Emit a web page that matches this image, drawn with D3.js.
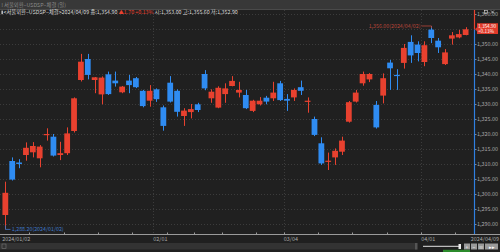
<!DOCTYPE html>
<html><head><meta charset="utf-8">
<script src="https://cdn.jsdelivr.net/npm/d3@7"></script>
<style>html,body{margin:0;padding:0;background:#202020;overflow:hidden}svg{display:block}</style>
</head><body><svg id="c" width="500" height="252"></svg>
<script>
const dates = ["01/02","01/03","01/04","01/05","01/08","01/09","01/10","01/11","01/12","01/15","01/16","01/17","01/18","01/19","01/22","01/23","01/24","01/25","01/26","01/29","01/30","01/31",
"02/01","02/02","02/05","02/06","02/07","02/08","02/13","02/14","02/15","02/16","02/19","02/20","02/21","02/22","02/23","02/26","02/27","02/28","02/29",
"03/04","03/05","03/06","03/07","03/08","03/11","03/12","03/13","03/14","03/15","03/18","03/19","03/20","03/21","03/22","03/25","03/26","03/27","03/28","03/29",
"04/01","04/02","04/03","04/04","04/05","04/08","04/09"];
const open  = [1293.0,1311.0,1310.5,1313.0,1313.9,1311.9,1319.6,1319.1,1313.0,1313.6,1321.0,1338.0,1345.0,1338.0,1333.2,1339.9,1337.8,1333.9,1337.8,1338.6,1334.4,1331.1,
1334.9,1328.9,1337.1,1334.4,1326.0,1327.3,1329.9,1340.0,1331.9,1328.8,1333.3,1336.0,1333.8,1333.0,1327.7,1329.9,1332.1,1331.9,1336.9,
1331.7,1332.2,1335.6,1330.7,1325.0,1316.9,1310.7,1312.2,1314.1,1324.1,1330.8,1336.9,1338.2,1329.7,1332.8,1343.8,1339.7,1343.7,1350.7,1349.8,
1344.0,1354.8,1351.1,1343.3,1351.8,1352.2,1353.0];
const high  = [1304.1,1312.2,1311.6,1317.2,1317.3,1316.3,1321.9,1320.0,1317.4,1322.2,1332.2,1346.7,1346.7,1339.0,1339.2,1340.8,1340.8,1336.0,1339.7,1339.0,1334.7,1336.3,
1335.2,1329.5,1339.3,1334.9,1328.6,1330.0,1330.4,1341.3,1334.9,1335.9,1336.9,1339.3,1337.4,1334.7,1331.4,1332.3,1332.7,1337.4,1337.7,
1333.3,1335.2,1337.8,1332.2,1325.8,1318.9,1313.8,1315.2,1319.1,1331.0,1334.7,1340.8,1340.3,1331.0,1340.2,1344.7,1341.6,1350.0,1352.9,1350.9,
1350.9,1356.0,1352.0,1348.3,1354.0,1354.7,1355.6];
const low   = [1288.2,1304.5,1308.6,1311.1,1312.2,1308.9,1317.8,1312.5,1311.3,1313.0,1320.5,1337.5,1338.2,1333.6,1329.9,1333.0,1335.8,1333.6,1333.6,1335.3,1328.9,1329.1,
1330.7,1321.1,1330.5,1325.8,1322.7,1325.2,1327.3,1334.6,1330.4,1328.6,1330.4,1335.9,1332.2,1328.3,1327.3,1329.5,1329.9,1331.0,1331.0,
1327.7,1331.0,1333.0,1327.1,1319.3,1309.7,1308.0,1309.7,1313.0,1323.8,1330.5,1336.1,1337.3,1321.8,1330.2,1334.7,1334.7,1341.8,1343.7,1344.2,
1342.6,1350.3,1347.0,1343.0,1349.8,1351.9,1352.9];
const close = [1300.4,1304.8,1310.0,1315.4,1316.0,1315.8,1320.0,1312.8,1313.6,1320.2,1331.9,1344.1,1339.7,1338.9,1338.8,1333.3,1336.9,1335.8,1336.3,1335.6,1329.3,1334.4,
1331.6,1322.7,1330.8,1327.4,1327.8,1328.3,1328.0,1335.2,1334.1,1335.4,1335.2,1337.7,1334.7,1328.6,1331.1,1331.1,1330.8,1333.8,1331.3,
1331.1,1334.7,1334.4,1331.1,1319.7,1310.2,1311.1,1314.4,1317.8,1330.6,1333.8,1340.0,1340.0,1322.2,1338.6,1341.9,1339.3,1348.7,1346.2,1347.0,
1349.6,1352.0,1348.9,1347.2,1352.9,1353.3,1354.9];
const gridTicks = [1290,1295,1300,1305,1310,1315,1320,1325,1330,1335,1340,1345,1350,1355,1360];
const labelTicks = [1290,1295,1300,1305,1310,1315,1320,1325,1330,1335,1340,1345,1350,1360];
const dateTickKeys = ["01/02","02/01","03/04","04/01"];
const dateTickLabels = ["2024/01/02","02/01","03/04","04/01"];
const lastDateLabel = "2024/04/09";
const weekStarts = ["01/08","01/15","01/22","01/29","02/05","02/13","02/19","02/26","03/04","03/11","03/18","03/25","04/01","04/08"];
const titleText = "서울외환−USDSP−체결 (일)";
const legendMain = "<서울외환−USDSP−체결>2024/04/09 종:1,354.90 ";
const legendChange = "▲1.70 +0.13%";
const legendRest = " 시:1,353.00 고:1,355.60 저:1,352.90";
const lastPrice = 1354.9, lastPct = "+0.13%";
const hiLabel = "1,356.00(2024/04/02)", hiIdx = 62, hiVal = 1356.0;
const loLabel = "1,288.20(2024/01/02)", loIdx = 0, loVal = 1288.2;

const RED = "#e8412f", BLUE = "#2f8cf2", FONT = "'Noto Sans CJK KR','Noto Sans',sans-serif";
const svg = d3.select("#c");
const plotL = 0, plotR = 474, plotT = 10, plotB = 234;

svg.append("rect").attr("width",500).attr("height",252).attr("fill","#202020");

const data = dates.map((d,i)=>({d, o:open[i], h:high[i], l:low[i], c:close[i]}));
const step = 6.87;
const x = d3.scaleBand().domain(dates).range([1.9, 1.9 + step*dates.length]).paddingInner(0.16).paddingOuter(0.08);
const bw = x.bandwidth();
const cx = d => x(d) + bw/2;
const y = d3.scaleLinear().domain([1286.667, 1361.333]).range([plotB, plotT]);

// grid
const g = svg.append("g");
g.selectAll(".hg").data(gridTicks).enter().append("line")
  .attr("x1",plotL).attr("x2",plotR).attr("y1",d=>Math.round(y(d))+0.5).attr("y2",d=>Math.round(y(d))+0.5)
  .attr("stroke","#3c3c3c").attr("stroke-dasharray","1,2");
g.selectAll(".vg").data(dateTickKeys.slice(1)).enter().append("line")
  .attr("x1",d=>Math.round(cx(d)-step/2)+0.5).attr("x2",d=>Math.round(cx(d)-step/2)+0.5)
  .attr("y1",plotT).attr("y2",plotB).attr("stroke","#3c3c3c").attr("stroke-dasharray","1,2");

// candles
const cg = svg.append("g");
cg.selectAll("line.w").data(data).enter().append("line")
  .attr("x1",d=>Math.round(cx(d.d))+0.5).attr("x2",d=>Math.round(cx(d.d))+0.5)
  .attr("y1",d=>y(d.h)).attr("y2",d=>y(d.l))
  .attr("stroke",d=>d.c>=d.o?RED:BLUE).attr("stroke-width",1);
cg.selectAll("rect.b").data(data).enter().append("rect")
  .attr("x",d=>x(d.d)).attr("width",bw)
  .attr("y",d=>y(Math.max(d.o,d.c))).attr("height",d=>Math.max(1,Math.abs(y(d.o)-y(d.c))))
  .attr("fill",d=>d.c>=d.o?RED:BLUE);

// high / low markers
const hx = Math.round(cx(dates[hiIdx]))+0.5, hy = y(hiVal);
svg.append("path").attr("d",`M${hx-10},${hy}H${hx}V${hy+2}`).attr("stroke","#b8463a").attr("fill","none").attr("stroke-width",0.8);
svg.append("text").attr("x",hx-11).attr("y",hy+1.8).attr("text-anchor","end").attr("fill","#b8463a")
  .attr("font-family",FONT).attr("font-size",5.3).text(hiLabel);
const lx = Math.round(cx(dates[loIdx]))+0.5, ly = y(loVal);
svg.append("path").attr("d",`M${lx},${ly-4}V${ly}H${lx+5}`).attr("stroke","#3f78c8").attr("fill","none").attr("stroke-width",0.8);
svg.append("text").attr("x",lx+6.3).attr("y",ly+1.8).attr("fill","#3f78c8")
  .attr("font-family",FONT).attr("font-size",5.3).text(loLabel);

// y axis
const yAxis = d3.axisRight(y).tickValues(labelTicks).tickSize(2).tickFormat(d=>d3.format(",.2f")(d));
const ya = svg.append("g").attr("transform",`translate(${plotR+0.5},0)`).call(yAxis);
ya.select(".domain").remove();
ya.selectAll("line").attr("stroke","#888");
ya.selectAll("text").attr("x",2.5).attr("fill","#a8a8a8").attr("font-family",FONT).attr("font-size",5.4);
svg.append("line").attr("x1",plotR+0.5).attr("x2",plotR+0.5).attr("y1",y(lastPrice)).attr("y2",plotB).attr("stroke","#2f7fe0").attr("stroke-width",1.2);
svg.append("line").attr("x1",plotR+0.5).attr("x2",plotR+0.5).attr("y1",plotT).attr("y2",y(lastPrice)).attr("stroke",RED).attr("stroke-width",1.2);

// last price box
const ly2 = y(lastPrice);
svg.append("path").attr("d",`M${plotR+1},${ly2}L${plotR+3},${ly2-2}V${ly2-6}H498V${ly2+4.8}H${plotR+3}V${ly2+2}Z`).attr("fill","#e03a2a");
svg.append("text").attr("x",478).attr("y",ly2-1.5).attr("fill","#fff").attr("font-family",FONT).attr("font-size",4.7).text(d3.format(",.2f")(lastPrice));
svg.append("text").attr("x",478).attr("y",ly2+3.9).attr("fill","#fff").attr("font-family",FONT).attr("font-size",4.7).text(lastPct);

// x axis
svg.append("line").attr("x1",0).attr("x2",500).attr("y1",plotB+0.5).attr("y2",plotB+0.5).attr("stroke","#9a9a9a");
svg.selectAll(".wt").data(weekStarts).enter().append("line")
  .attr("x1",d=>Math.round(cx(d)-step/2)+0.5).attr("x2",d=>Math.round(cx(d)-step/2)+0.5)
  .attr("y1",plotB-1.5).attr("y2",plotB).attr("stroke","#9a9a9a");
svg.selectAll(".xl").data(dateTickKeys).enter().append("text")
  .attr("x",d=>cx(d)-step/2+0.3).attr("y",240.5).attr("fill","#a8a8a8")
  .attr("font-family",FONT).attr("font-size",5.4).text((d,i)=>dateTickLabels[i]);
svg.append("text").attr("x",499).attr("y",240.5).attr("text-anchor","end").attr("fill","#a8a8a8")
  .attr("font-family",FONT).attr("font-size",5.4).text(lastDateLabel);

// title bar
svg.append("rect").attr("x",0).attr("y",0).attr("width",500).attr("height",9).attr("fill","#383838");
svg.append("line").attr("x1",0).attr("x2",500).attr("y1",9.5).attr("y2",9.5).attr("stroke","#4a4a4a");
svg.append("text").attr("x",1.5).attr("y",6.8).attr("fill","#8a8a8a").attr("font-family",FONT).attr("font-size",5.3).text("⁞ " + titleText);
svg.append("rect").attr("x",484.5).attr("y",10.5).attr("width",3).attr("height",3).attr("fill","none").attr("stroke","#ddd").attr("stroke-width",0.6);
svg.append("path").attr("d","M491,10.5L494,13.5M494,10.5L491,13.5").attr("stroke","#ddd").attr("stroke-width",0.7);

// legend row
svg.append("rect").attr("x",1.5).attr("y",10.6).attr("width",1.3).attr("height",3.6).attr("fill","#ddd");
const lt = svg.append("text").attr("x",3.5).attr("y",14.3).attr("font-family",FONT).attr("font-size",5.3).attr("fill","#d8d8d8");
lt.append("tspan").text(legendMain);
lt.append("tspan").attr("fill","#e8412f").text(legendChange);
lt.append("tspan").text(legendRest);

// bottom scroll bar
svg.append("rect").attr("x",0).attr("y",243).attr("width",417).attr("height",6.5).attr("fill","#333");
svg.append("rect").attr("x",2).attr("y",244).attr("width",4).attr("height",4.5).attr("fill","none").attr("stroke","#777").attr("stroke-width",0.6);
svg.append("rect").attr("x",415).attr("y",243).attr("width",2.5).attr("height",6.5).attr("fill","#555");
svg.append("line").attr("x1",423).attr("x2",461).attr("y1",246.3).attr("y2",246.3).attr("stroke","#bbb").attr("stroke-width",1.2);
svg.append("rect").attr("x",458.5).attr("y",244).attr("width",2.5).attr("height",5).attr("fill","#eee");
const btns = [[464,6,"+"],[471,6,"−"],[478,6,"≡"],[485,13,"▸▸"]];
btns.forEach(b=>{
  svg.append("rect").attr("x",b[0]).attr("y",243.5).attr("width",b[1]).attr("height",6).attr("fill","#9a9a9a");
  svg.append("text").attr("x",b[0]+b[1]/2).attr("y",248.6).attr("text-anchor","middle").attr("fill","#fff").attr("font-family",FONT).attr("font-size",5).text(b[2]);
});
svg.append("rect").attr("x",443).attr("y",249.8).attr("width",27).attr("height",2.2).attr("fill","#2b8a2b");
</script></body></html>
